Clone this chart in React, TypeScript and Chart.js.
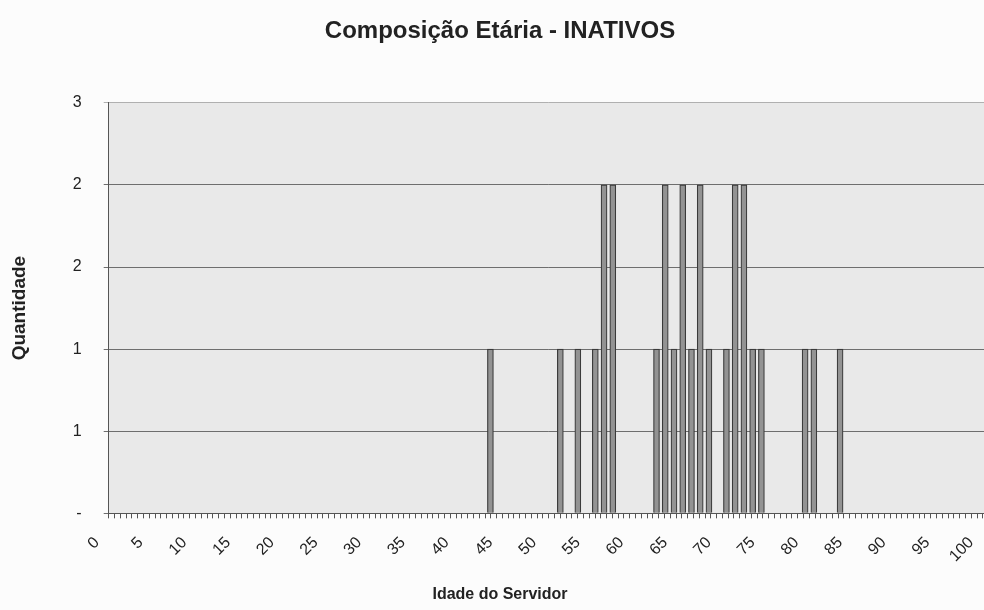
import React, { useEffect, useRef } from "react";
import { Chart, registerables } from "chart.js";

Chart.register(...registerables);

const chartTitle = "Composição Etária - INATIVOS";
const xAxisTitle = "Idade do Servidor";
const yAxisTitle = "Quantidade";

// Ages (x) and number of inactive servants (y)
const ages = [45, 53, 55, 57, 58, 59, 64, 65, 66, 67, 68, 69, 70, 72, 73, 74, 75, 76, 81, 82, 85];
const counts = [1, 1, 1, 1, 2, 2, 1, 2, 1, 2, 1, 2, 1, 1, 2, 2, 1, 1, 1, 1, 1];

const xTickValues = [0, 5, 10, 15, 20, 25, 30, 35, 40, 45, 50, 55, 60, 65, 70, 75, 80, 85, 90, 95, 100];
const yTickValues = [0, 0.5, 1, 1.5, 2, 2.5];
const yTickLabels = ["-", "1", "1", "2", "2", "3"];

const xMin = 4 / 3;
const xMax = 102;
const minorTickStep = 2 / 3;

const FONT = '"Liberation Sans", Arial, sans-serif';

const bgPlugin = {
  id: "bgPlugin",
  beforeDraw(chart: any) {
    const { ctx, chartArea } = chart;
    ctx.save();
    ctx.fillStyle = "#fcfcfc";
    ctx.fillRect(0, 0, chart.width, chart.height);
    ctx.fillStyle = "#e9e9e9";
    ctx.fillRect(chartArea.left, chartArea.top, chartArea.right - chartArea.left, chartArea.bottom - chartArea.top);
    ctx.restore();
  },
};

export default function App() {
  const ref = useRef<HTMLCanvasElement | null>(null);

  useEffect(() => {
    if (!ref.current) return;
    const points = ages.map((a, i) => ({ x: a, y: counts[i] }));
    const chart = new Chart(ref.current, {
      type: "bar",
      data: {
        datasets: [
          {
            data: points as any,
            xAxisID: "x",
            yAxisID: "y",
            backgroundColor: "#939393",
            borderColor: "#3a3a3a",
            borderWidth: 1.2,
            barThickness: 6,
          },
        ],
      },
      options: {
        animation: false,
        responsive: false,
        devicePixelRatio: 1,
        layout: { padding: { left: 0, right: 0, top: 0, bottom: 0 } },
        plugins: {
          legend: { display: false },
          tooltip: { enabled: false },
          title: {
            display: true,
            text: chartTitle,
            color: "#222",
            font: { family: FONT, size: 24, weight: "bold" },
            padding: { top: 17, bottom: 57 },
          },
          subtitle: {
            display: true,
            position: "bottom",
            text: xAxisTitle,
            color: "#222",
            font: { family: FONT, size: 16, weight: "bold" },
            padding: { top: 4, bottom: 6 },
          },
        },
        scales: {
          xm: {
            type: "linear",
            position: "bottom",
            weight: 0,
            min: xMin,
            max: xMax,
            afterBuildTicks: (scale: any) => {
              const t: any[] = [];
              for (let v = xMin; v <= xMax + 1e-9; v += minorTickStep) t.push({ value: v });
              scale.ticks = t;
            },
            ticks: { display: false },
            grid: { display: true, drawOnChartArea: false, drawTicks: true, tickLength: 5, color: "#555", lineWidth: 1 },
            border: { display: true, color: "#555", width: 1 },
          },
          x: {
            type: "linear",
            position: "bottom",
            weight: 1,
            min: xMin,
            max: xMax,
            offset: false,
            afterBuildTicks: (scale: any) => {
              scale.ticks = xTickValues.map((v) => ({ value: v }));
            },
            ticks: {
              autoSkip: false,
              minRotation: 45,
              maxRotation: 45,
              padding: 15,
              color: "#222",
              font: { family: FONT, size: 16 },
              callback: (v: any) => String(v),
            },
            grid: { display: false, drawTicks: false },
            border: { display: false },
          },
          y: {
            type: "linear",
            position: "left",
            min: 0,
            max: 2.5,
            afterBuildTicks: (scale: any) => {
              scale.ticks = yTickValues.map((v) => ({ value: v }));
            },
            ticks: {
              padding: 22,
              color: "#222",
              font: { family: FONT, size: 16 },
              callback: (_v: any, i: number) => yTickLabels[i],
            },
            grid: {
              color: (c: any) => (c.tick && c.tick.value === 2.5 ? "#b0b0b0" : "#6e6e6e"),
              tickLength: 5,
              lineWidth: 1,
            },
            border: { display: true, color: "#555", width: 1 },
            title: {
              display: true,
              text: yAxisTitle,
              color: "#222",
              font: { family: FONT, size: 19, weight: "bold" },
              padding: { top: 8, bottom: 20 },
            },
          },
        },
      },
      plugins: [bgPlugin],
    } as any);
    return () => chart.destroy();
  }, []);

  return (
    <div style={{ position: "fixed", left: 0, top: 0, width: 984, height: 610, overflow: "hidden", background: "#fcfcfc" }}>
      <canvas ref={ref} width={1000} height={610} style={{ display: "block" }} />
    </div>
  );
}
